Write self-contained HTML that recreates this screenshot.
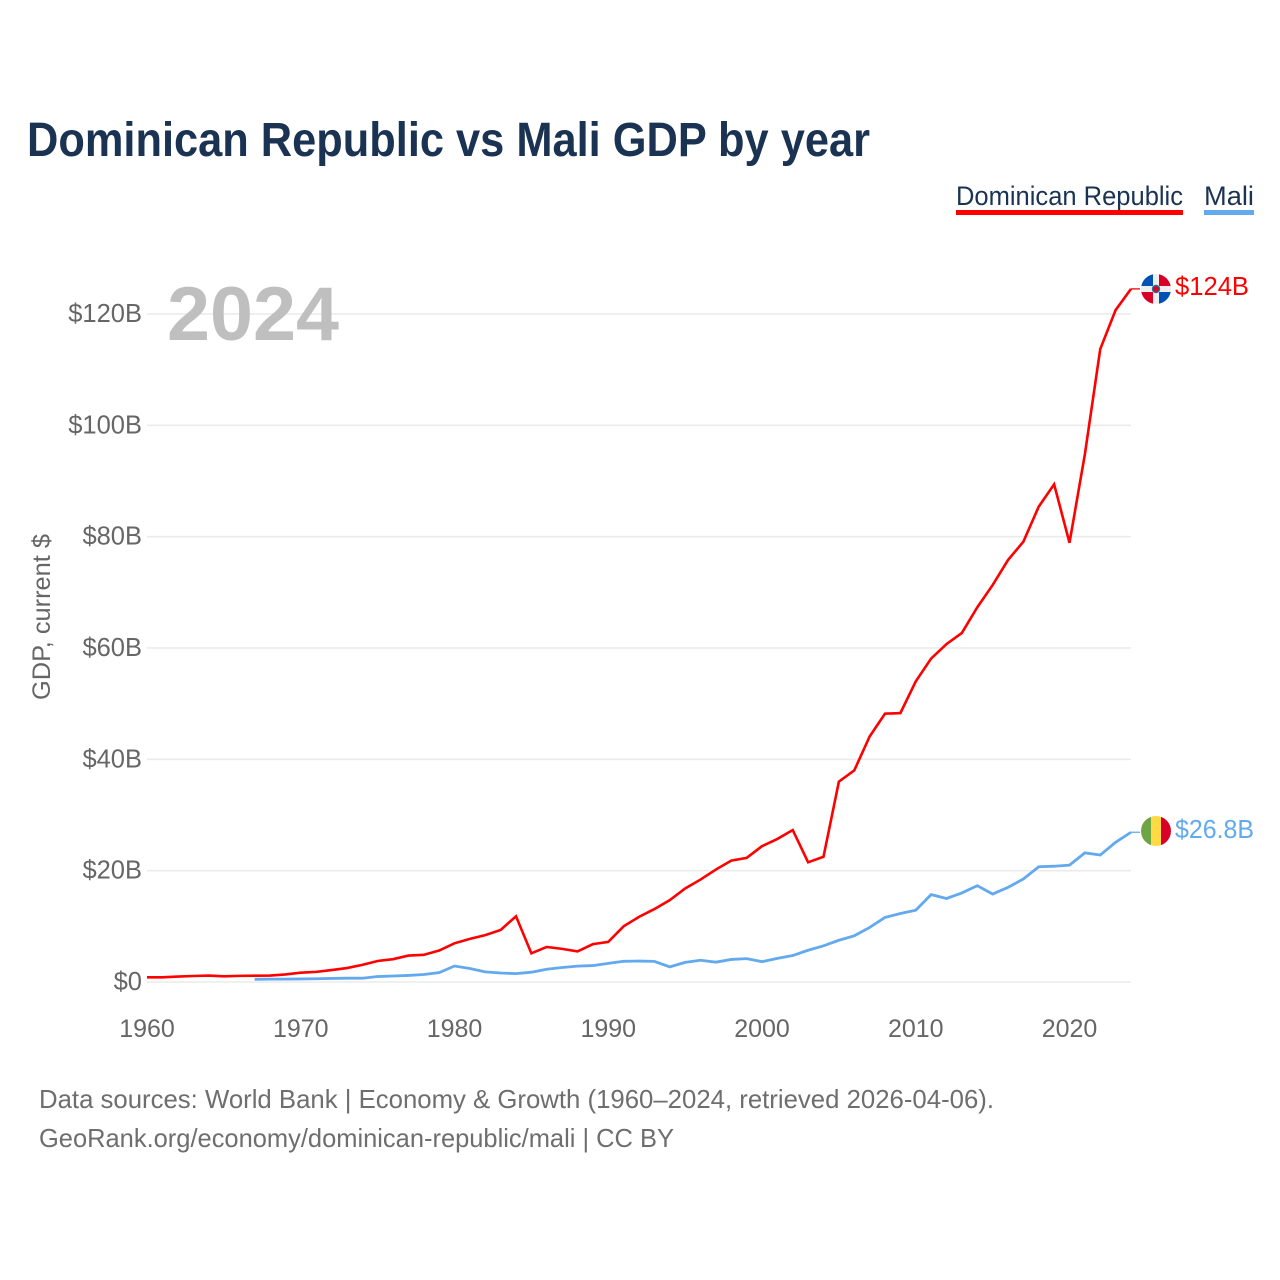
<!DOCTYPE html>
<html lang="en">
<head>
<meta charset="utf-8">
<title>Dominican Republic vs Mali GDP by year</title>
<style>
html,body{margin:0;padding:0;background:#fff;}
svg{display:block;font-family:"Liberation Sans",sans-serif;}
</style>
</head>
<body>
<svg id="chart" xmlns="http://www.w3.org/2000/svg" width="1280" height="1280" viewBox="0 0 1280 1280">
  <rect x="0" y="0" width="1280" height="1280" fill="#fff"/>
  <text x="27" y="156" font-size="48" font-weight="bold" fill="#1b3353" textLength="843" lengthAdjust="spacingAndGlyphs">Dominican Republic vs Mali GDP by year</text>

  <g>
    <text x="956" y="205" font-size="27" fill="#1b3353" textLength="227" lengthAdjust="spacingAndGlyphs">Dominican Republic</text>
    <rect x="956" y="210" width="227" height="5" fill="#ff0000"/>
  </g>
  <g>
    <text x="1204" y="205" font-size="27" fill="#1b3353" textLength="50" lengthAdjust="spacingAndGlyphs">Mali</text>
    <rect x="1204" y="210" width="50" height="5" fill="#63a9ee"/>
  </g>

  <g id="grid"></g>
  <g id="yticks"></g>
  <g id="xticks"></g>

  <text x="167" y="340" font-size="76" font-weight="bold" fill="#bfbfbf" textLength="172" lengthAdjust="spacingAndGlyphs">2024</text>
  <text transform="translate(50,617) rotate(-90)" text-anchor="middle" font-size="25" fill="#666" textLength="166" lengthAdjust="spacingAndGlyphs">GDP, current $</text>

  <g id="series"></g>

  <defs>
    <clipPath id="flag-do-clip"><circle cx="1156" cy="289" r="15"/></clipPath>
    <clipPath id="flag-ml-clip"><circle cx="1156" cy="831" r="15"/></clipPath>
  </defs>

  <g id="flag-do" clip-path="url(#flag-do-clip)">
    <rect x="1141" y="274" width="30" height="30" fill="#eeeeee"/>
    <rect x="1141" y="274" width="12" height="12" fill="#0052b4"/>
    <rect x="1159" y="274" width="12" height="12" fill="#d80027"/>
    <rect x="1141" y="292" width="12" height="12" fill="#d80027"/>
    <rect x="1159" y="292" width="12" height="12" fill="#0052b4"/>
    <circle cx="1156" cy="289" r="3.5" fill="#d80027" stroke="#2f6b8f" stroke-width="1.4"/>
  </g>
  <g id="flag-ml" clip-path="url(#flag-ml-clip)">
    <rect x="1141" y="816" width="10" height="30" fill="#6da544"/>
    <rect x="1151" y="816" width="10" height="30" fill="#ffda44"/>
    <rect x="1161" y="816" width="10" height="30" fill="#d80027"/>
  </g>

  <text x="1175" y="295" font-size="25.5" fill="#ff0000" textLength="74" lengthAdjust="spacingAndGlyphs">$124B</text>
  <text x="1175" y="838" font-size="25.5" fill="#63a9ee" textLength="79" lengthAdjust="spacingAndGlyphs">$26.8B</text>

  <text x="39" y="1108" font-size="26" fill="#6e6e6e" textLength="955" lengthAdjust="spacingAndGlyphs">Data sources: World Bank | Economy &amp; Growth (1960–2024, retrieved 2026-04-06).</text>
  <text x="39" y="1147" font-size="26" fill="#6e6e6e" textLength="635" lengthAdjust="spacingAndGlyphs">GeoRank.org/economy/dominican-republic/mali | CC BY</text>
</svg>
<script>
var years = [1960,1961,1962,1963,1964,1965,1966,1967,1968,1969,1970,1971,1972,1973,1974,1975,1976,1977,1978,1979,1980,1981,1982,1983,1984,1985,1986,1987,1988,1989,1990,1991,1992,1993,1994,1995,1996,1997,1998,1999,2000,2001,2002,2003,2004,2005,2006,2007,2008,2009,2010,2011,2012,2013,2014,2015,2016,2017,2018,2019,2020,2021,2022,2023,2024];
var dominicanRepublicGdp = [0.84,0.84,0.97,1.08,1.16,1.02,1.1,1.14,1.15,1.36,1.67,1.82,2.15,2.5,3.08,3.77,4.1,4.75,4.88,5.65,6.95,7.75,8.42,9.35,11.8,5.15,6.3,5.95,5.5,6.8,7.2,10.0,11.7,13.1,14.7,16.8,18.4,20.2,21.8,22.3,24.4,25.7,27.3,21.5,22.5,36.0,38.0,44.1,48.2,48.3,54.0,58.1,60.7,62.7,67.3,71.3,75.8,79.1,85.4,89.4,78.9,94.8,113.7,120.7,124.5];
var maliGdp = [null,null,null,null,null,null,null,0.48,0.52,0.52,0.55,0.58,0.64,0.68,0.68,0.98,1.08,1.18,1.34,1.68,2.87,2.42,1.82,1.62,1.5,1.76,2.3,2.6,2.85,2.95,3.35,3.72,3.76,3.7,2.72,3.52,3.9,3.56,4.05,4.2,3.65,4.25,4.75,5.7,6.5,7.5,8.3,9.8,11.6,12.3,12.9,15.7,15.0,16.0,17.3,15.8,17.0,18.5,20.7,20.8,21.0,23.2,22.8,25.1,26.9];
var yTickValues = [0,20,40,60,80,100,120];
var yTickLabels = ["$0","$20B","$40B","$60B","$80B","$100B","$120B"];
var xTickYears = [1960,1970,1980,1990,2000,2010,2020];

var NS = "http://www.w3.org/2000/svg";
function xScale(year){ return 147 + (year - 1960) * 15.375; }
function yScale(v){ return 982 - v * 5.567; }
function make(tag, parent){
  var el = document.createElementNS(NS, tag);
  parent.appendChild(el);
  return el;
}

var gridG = document.getElementById("grid");
var yG = document.getElementById("yticks");
yTickValues.forEach(function(v, i){
  var line = make("line", gridG);
  
  
  line.setAttribute("x1", 147);
  line.setAttribute("x2", 1131);
  line.setAttribute("y1", yScale(v));
  line.setAttribute("y2", yScale(v));
  line.setAttribute("stroke", "#ebebeb");
  line.setAttribute("stroke-width", 1.6);
  var t = make("text", yG);
  
  
  t.setAttribute("x", 142);
  t.setAttribute("y", yScale(v) + 8);
  t.setAttribute("text-anchor", "end");
  t.setAttribute("font-size", 25.5);
  t.setAttribute("fill", "#666");
  t.textContent = yTickLabels[i];
});

var xG = document.getElementById("xticks");
xTickYears.forEach(function(year){
  var t = make("text", xG);
  
  
  t.setAttribute("x", xScale(year));
  t.setAttribute("y", 1037);
  t.setAttribute("text-anchor", "middle");
  t.setAttribute("font-size", 25);
  t.setAttribute("fill", "#666");
  t.textContent = String(year);
});

var seriesG = document.getElementById("series");
function drawSeries(values, color, name, width){
  var pts = [];
  var lastX = 0, lastY = 0;
  values.forEach(function(v, i){
    if (v === null) return;
    lastX = xScale(years[i]);
    lastY = yScale(v);
    pts.push(lastX.toFixed(2) + "," + lastY.toFixed(2));
  });
  var line = make("polyline", seriesG);
  
  
  line.setAttribute("points", pts.join(" "));
  line.setAttribute("fill", "none");
  line.setAttribute("stroke", color);
  line.setAttribute("stroke-width", width);
  line.setAttribute("stroke-linejoin", "miter");
  var conn = make("line", seriesG);
  
  
  conn.setAttribute("x1", lastX);
  conn.setAttribute("x2", lastX + 9);
  conn.setAttribute("y1", lastY);
  conn.setAttribute("y2", lastY);
  conn.setAttribute("stroke", color);
  conn.setAttribute("stroke-width", 1.3);
}
drawSeries(maliGdp, "#63a9ee", "line-mali", 2.8);
drawSeries(dominicanRepublicGdp, "#ff0000", "line-dominican-republic", 2.6);
</script>
</body>
</html>
